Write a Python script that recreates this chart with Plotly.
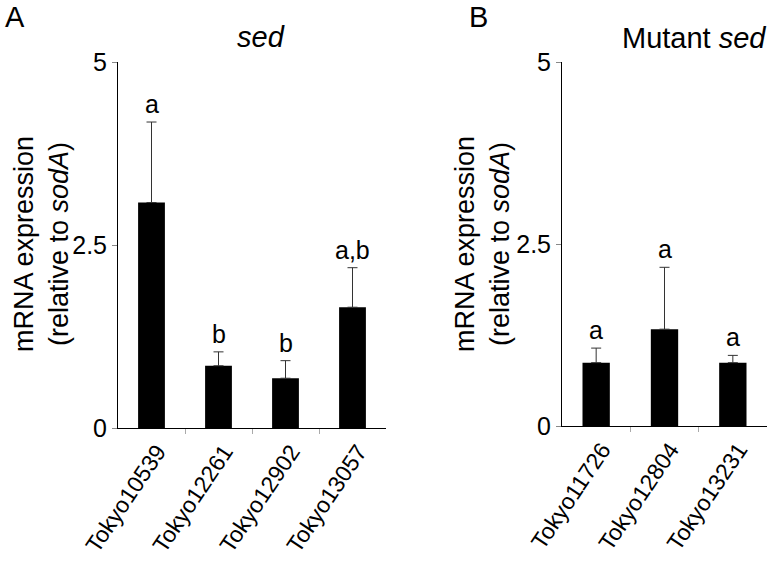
import plotly.graph_objects as go

# Panel A data
cats_a = ["Tokyo10539", "Tokyo12261", "Tokyo12902", "Tokyo13057"]
vals_a = [3.08, 0.85, 0.68, 1.65]
err_a = [1.10, 0.19, 0.24, 0.54]
letters_a = ["a", "b", "b", "a,b"]

# Panel B data
cats_b = ["Tokyo11726", "Tokyo12804", "Tokyo13231"]
vals_b = [0.87, 1.33, 0.87]
err_b = [0.20, 0.85, 0.10]
letters_b = ["a", "a", "a"]

y_ticks = [0, 2.5, 5]
y_ticktext = ["0", "2.5", "5"]

FONT = "Liberation Sans, Arial, sans-serif"
W, H = 774, 565

fig = go.Figure()

def add_panel(cats, vals, errs, xa, ya):
    fig.add_trace(go.Bar(
        x=list(range(len(cats))), y=vals, width=0.4,
        marker=dict(color="black", line=dict(width=0)),
        error_y=dict(type="data", array=errs, arrayminus=[0] * len(errs),
                     symmetric=False, color="#333333", thickness=1, width=5),
        xaxis=xa, yaxis=ya, showlegend=False, hoverinfo="skip",
    ))

add_panel(cats_a, vals_a, err_a, "x", "y")
add_panel(cats_b, vals_b, err_b, "x2", "y2")

def xaxis_cfg(cats, domain):
    n = len(cats)
    return dict(
        domain=domain, range=[-0.5, n - 0.5], automargin=False,
        tickmode="array", tickvals=list(range(n)), ticktext=cats,
        ticks="", tickangle=-56,
        ticklabelstandoff=0, ticklabelshift=6,
        tickfont=dict(family=FONT, size=23, color="black"),
        showline=True, linecolor="black", linewidth=1,
        showgrid=False, zeroline=False,
        minor=dict(tickmode="array", tickvals=[i + 0.5 for i in range(n - 1)],
                   ticks="outside", ticklen=5, tickcolor="#aaaaaa", tickwidth=1,
                   showgrid=False),
    )

def yaxis_cfg(domain, anchor):
    return dict(
        domain=domain, range=[0, 5], anchor=anchor, automargin=False,
        tickmode="array", tickvals=y_ticks, ticktext=y_ticktext,
        ticks="outside", ticklen=5, tickcolor="#888888", tickwidth=1,
        tickfont=dict(family=FONT, size=25, color="black"),
        showline=True, linecolor="black", linewidth=1,
        showgrid=False, zeroline=False,
    )

fig.update_layout(
    width=W, height=H, autosize=False,
    margin=dict(l=0, r=0, t=0, b=0, pad=0),
    paper_bgcolor="white", plot_bgcolor="white",
    xaxis=dict(**xaxis_cfg(cats_a, [118 / W, 386 / W]), anchor="y"),
    yaxis=yaxis_cfg([1 - 428 / H, 1 - 62 / H], "x"),
    xaxis2=dict(**xaxis_cfg(cats_b, [562 / W, 767 / W]), anchor="y2"),
    yaxis2=yaxis_cfg([1 - 426 / H, 1 - 62 / H], "x2"),
    bargap=0.6,
)

annotations = []
for i, (v, e, t) in enumerate(zip(vals_a, err_a, letters_a)):
    annotations.append(dict(x=i, y=v + e, xref="x", yref="y", text=t, showarrow=False,
                            yanchor="bottom", yshift=2,
                            font=dict(family=FONT, size=25, color="black")))
for i, (v, e, t) in enumerate(zip(vals_b, err_b, letters_b)):
    annotations.append(dict(x=i, y=v + e, xref="x2", yref="y2", text=t, showarrow=False,
                            yanchor="bottom", yshift=2,
                            font=dict(family=FONT, size=25, color="black")))

title_text = "mRNA expression<br>(relative to <i>sodA</i>)"
for xc in [41, 482]:
    annotations.append(dict(x=xc / W, y=1 - 244 / H, xref="paper", yref="paper",
                            text=title_text, textangle=-90, showarrow=False,
                            xanchor="center", yanchor="middle",
                            font=dict(family=FONT, size=27, color="black")))

annotations += [
    dict(x=15 / W, y=1 - 17 / H, xref="paper", yref="paper", text="A", showarrow=False,
         xanchor="center", yanchor="middle", font=dict(family=FONT, size=29, color="black")),
    dict(x=479 / W, y=1 - 17 / H, xref="paper", yref="paper", text="B", showarrow=False,
         xanchor="center", yanchor="middle", font=dict(family=FONT, size=29, color="black")),
    dict(x=261 / W, y=1 - 37 / H, xref="paper", yref="paper", text="<i>sed</i>", showarrow=False,
         xanchor="center", yanchor="middle", font=dict(family=FONT, size=29, color="black")),
    dict(x=694 / W, y=1 - 38 / H, xref="paper", yref="paper", text="Mutant <i>sed</i>", showarrow=False,
         xanchor="center", yanchor="middle", font=dict(family=FONT, size=29, color="black")),
]
fig.update_layout(annotations=annotations)

fig.write_html("out.html", config={"displayModeBar": False, "staticPlot": True},
               post_script="document.body.style.margin='0';document.body.style.overflow='hidden';")
